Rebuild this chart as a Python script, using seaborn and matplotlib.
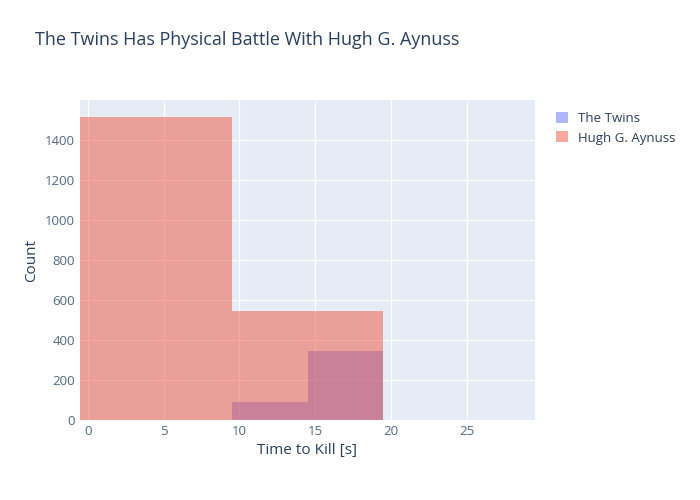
import matplotlib
matplotlib.use("Agg")
import matplotlib.pyplot as plt
import seaborn as sns

# histogram data
twins_centers = [12, 17]
twins_counts = [90, 345]
twins_edges = [9.5, 14.5, 19.5]
hugh_centers = [4.5, 14.5]
hugh_counts = [1515, 545]
hugh_edges = [-0.5, 9.5, 19.5]

sns.set_style("white")
plt.rcParams["font.family"] = ["Open Sans", "DejaVu Sans"]
txt = "#2a3f5f"

fig = plt.figure(figsize=(7, 5), dpi=100)
ax = fig.add_axes([0.114, 0.16, 0.65, 0.64])
ax.set_facecolor("#E5ECF6")

sns.histplot(x=twins_centers, weights=twins_counts, bins=twins_edges, ax=ax,
             color="#636efa", alpha=0.5, linewidth=0, label="The Twins")
sns.histplot(x=hugh_centers, weights=hugh_counts, bins=hugh_edges, ax=ax,
             color="#EF553B", alpha=0.5, linewidth=0, label="Hugh G. Aynuss")

ax.set_xlim(-0.53, 29.5)
ax.set_ylim(0, 1600)
ax.set_xticks([0, 5, 10, 15, 20, 25])
ax.set_yticks(range(0, 1600, 200))
ax.grid(True, color="white", linewidth=1)
ax.set_axisbelow(True)
for s in ax.spines.values():
    s.set_visible(False)
ax.tick_params(length=0, labelsize=9.5, colors="#506784")
ax.set_xlabel("Time to Kill [s]", fontsize=11, color=txt)
ax.set_ylabel("Count", fontsize=11, color=txt)

fig.text(0.05, 0.91, "The Twins Has Physical Battle With Hugh G. Aynuss",
         fontsize=13, color=txt)
ax.legend(loc="upper left", bbox_to_anchor=(1.02, 1.0), frameon=False,
          fontsize=9.5, labelcolor=txt, handlelength=0.9, handleheight=0.9)

fig.savefig("out.png", dpi=100)
